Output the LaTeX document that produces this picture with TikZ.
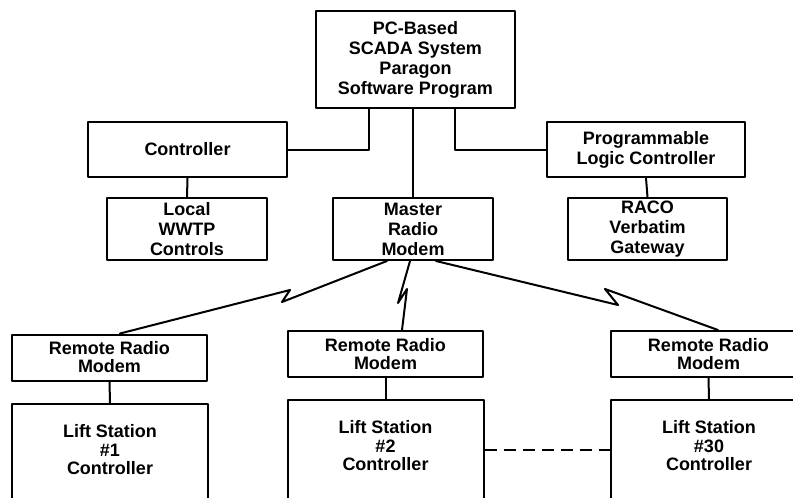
\documentclass[tikz,border=0pt]{standalone}
\usepackage{fontspec}
\setmainfont{Liberation Sans}
\begin{document}
\begin{tikzpicture}[x=1pt,y=-1pt,line join=round,line cap=round,
		unit/.style={draw,line width=2pt,align=center,inner sep=1pt,font=\bfseries\fontsize{18}{20}\selectfont},
		remote/.style={unit,minimum width=195,minimum height=46,font=\bfseries\fontsize{18}{18}\selectfont},
		station/.style={draw,line width=2pt,minimum width=196,minimum height=120,anchor=north},
		stationtext/.style={align=center,inner sep=0pt,font=\bfseries\fontsize{18}{18.5}\selectfont},
		wire/.style={line width=2pt}]
	\useasboundingbox (0,0) rectangle (793,498);
	\clip (0,0) rectangle (793,498);
	% top level
	\node[unit,minimum width=199,minimum height=97] (scada) at (415.5,59.5) {PC-Based\\SCADA System\\Paragon\\Software Program};
	\node[unit,minimum width=199,minimum height=55] (ctrl) at (187.5,149.5) {Controller};
	\node[unit,minimum width=198,minimum height=55] (plc) at (646,149.5) {Programmable\\Logic Controller};
	\node[unit,minimum width=160,minimum height=62] (wwtp) at (187,229) {Local\\WWTP\\Controls};
	\node[unit,minimum width=160,minimum height=62] (master) at (413,229) {Master\\Radio\\Modem};
	\node[unit,minimum width=159,minimum height=62] (raco) at (647.5,229) {RACO\\Verbatim\\Gateway};
	\draw[wire] ([xshift=-46.5pt]scada.south) |- (ctrl.east);
	\draw[wire] ([xshift=39.5pt]scada.south) |- (plc.west);
	\draw[wire] (master.north) -- (master.north |- scada.south);
	\draw[wire] (ctrl.south) -- (wwtp.north);
	\draw[wire] (plc.south) -- (raco.north);
	% remote sites
	\node[remote] (rrm1) at (109.5,357.5) {Remote Radio\\Modem};
	\node[remote] (rrm2) at (385.5,354) {Remote Radio\\Modem};
	\node[remote] (rrm3) at (708.5,354) {Remote Radio\\Modem};
	\node[station] (lift1) at (110,403) {};
	\node[station] (lift2) at (385.5,399) {};
	\node[station] (lift30) at (709,399) {};
	\node[stationtext] (lift1txt) at (110,450) {Lift Station\\\#1\\Controller};
	\node[stationtext] (lift2txt) at (385.5,446) {Lift Station\\\#2\\Controller};
	\node[stationtext] (lift30txt) at (709,446) {Lift Station\\\#30\\Controller};
	\draw[wire] (rrm1.south) -- (lift1.north);
	\draw[wire] (rrm2.south) -- (lift2.north);
	\draw[wire] (rrm3.south) -- (lift30.north);
	\draw[line width=2.5pt,dash pattern=on 12pt off 7pt,line cap=butt] (lift2.east |- 0,450) -- (lift30.west |- 0,450);
	% radio links
	\draw[wire] ([xshift=-26pt]master.south) -- (282,302) -- (290,290) -- ([xshift=10.5pt]rrm1.north);
	\draw[wire] ([xshift=-3pt]master.south) -- (398,303) -- (407,289) -- ([xshift=16.5pt]rrm2.north);
	\draw[wire] ([xshift=23pt]master.south) -- (618,305) -- (605,289) -- ([xshift=9.5pt]rrm3.north);
\end{tikzpicture}
\end{document}
